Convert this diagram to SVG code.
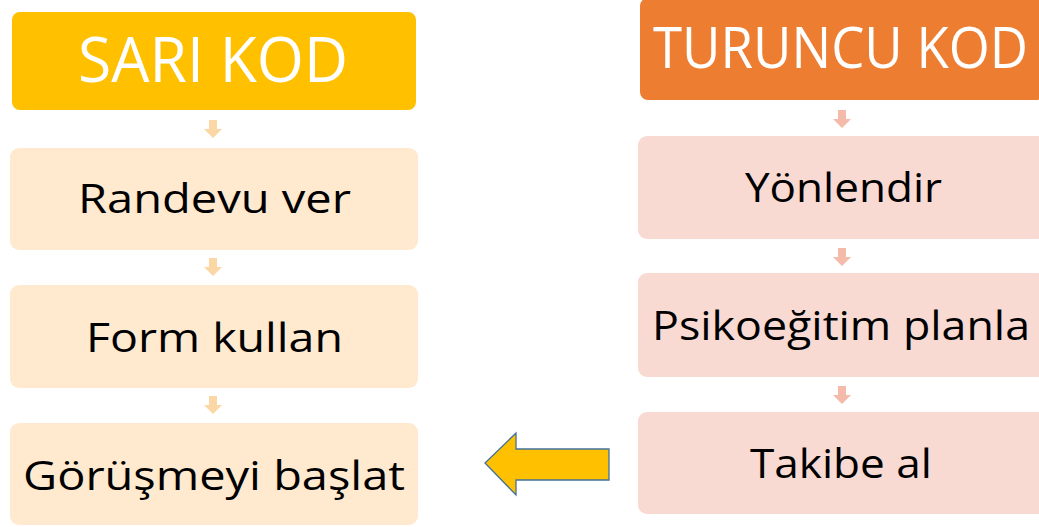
<svg xmlns="http://www.w3.org/2000/svg" width="1039" height="527" viewBox="0 0 1039 527">
<defs>
<style>
.t{font-family:"Open Sans","Noto Sans","Liberation Sans",sans-serif;text-anchor:middle}
.h{fill:#ffffff}
.b{fill:#000000;font-size:41px}
.yl{fill:#FFE9CF}
.ol{fill:#F8DAD2}
.ya{fill:#FCD7A6}
.oa{fill:#F4BBAA}
</style>
</defs>
<rect width="1039" height="527" fill="#ffffff"/>
<g id="connectors">
<path class="ya" d="M209,120h8v9h5l-9,9l-9,-9h5z"/>
<path class="ya" d="M209,258h8v9h5l-9,9l-9,-9h5z"/>
<path class="ya" d="M209,396h8v9h5l-9,9l-9,-9h5z"/>
<path class="oa" d="M838,110h8v9h5l-9,9l-9,-9h5z"/>
<path class="oa" d="M838,248h8v9h5l-9,9l-9,-9h5z"/>
<path class="oa" d="M838,386h8v9h5l-9,9l-9,-9h5z"/>
<path id="bigArrow" d="M609,449V480H516V495L485,463L516,433V449Z" fill="#FFC000" stroke="#41719C" stroke-width="1.3" stroke-linejoin="miter"/>
</g>
<g id="sari-kod">
<rect x="12" y="12" width="404" height="98" rx="8" fill="#FFC000"/>
<text class="t h" x="213" y="82" font-size="62" textLength="270" lengthAdjust="spacingAndGlyphs">SARI KOD</text>
</g>
<g id="randevu-ver">
<rect class="yl" x="10" y="148" width="408" height="102" rx="9"/>
<text class="t b" x="214.5" y="213" textLength="273" lengthAdjust="spacingAndGlyphs">Randevu ver</text>
</g>
<g id="form-kullan">
<rect class="yl" x="10" y="285" width="408" height="103" rx="9"/>
<text class="t b" x="214.5" y="352" textLength="257" lengthAdjust="spacingAndGlyphs">Form kullan</text>
</g>
<g id="gorusmeyi-baslat">
<rect class="yl" x="10" y="423" width="408" height="102" rx="9"/>
<text class="t b" x="214" y="490" textLength="382" lengthAdjust="spacingAndGlyphs">Görüşmeyi başlat</text>
</g>
<g id="turuncu-kod">
<rect x="640" y="-2" width="404" height="102" rx="8" fill="#ED7D31"/>
<text class="t h" x="840.5" y="68" font-size="57" textLength="375" lengthAdjust="spacingAndGlyphs">TURUNCU KOD</text>
</g>
<g id="yonlendir">
<rect class="ol" x="638" y="136" width="408" height="103" rx="9"/>
<text class="t b" x="843.5" y="202" textLength="197" lengthAdjust="spacingAndGlyphs">Yönlendir</text>
</g>
<g id="psikoegitim-planla">
<rect class="ol" x="638" y="273" width="408" height="104" rx="9"/>
<text class="t b" x="841" y="340" textLength="378" lengthAdjust="spacingAndGlyphs">Psikoeğitim planla</text>
</g>
<g id="takibe-al">
<rect class="ol" x="638" y="412" width="408" height="102" rx="9"/>
<text class="t b" x="841" y="478" textLength="182" lengthAdjust="spacingAndGlyphs">Takibe al</text>
</g>
</svg>
